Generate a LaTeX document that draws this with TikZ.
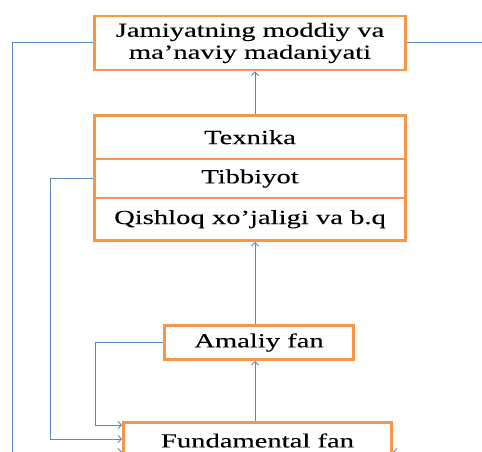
\documentclass[tikz,border=0pt]{standalone}
\usepackage{fontspec}
\setmainfont[FakeStretch=1.43,FakeBold=0.15]{Liberation Serif}
\usetikzlibrary{arrows.meta}
\definecolor{boxorange}{HTML}{F79646}
\definecolor{linkblue}{HTML}{5A88C4}
\begin{document}
\begin{tikzpicture}[x=1pt,y=-1pt,
  box/.style={draw=boxorange,line width=2.6pt,fill=white,inner sep=0pt,
    align=center,font=\fontsize{20}{22}\selectfont},
  link/.style={draw=linkblue,line width=1pt},
  arr/.style={link,-{Straight Barb[length=3.5pt,width=7pt]}}]
\useasboundingbox (0,0) rectangle (482,452);
\clip (0,0) rectangle (482,452);

% boxes
\node[box,minimum width=311pt,minimum height=54pt] (culture) at (250,43)
  {Jamiyatning moddiy va\\ma’naviy madaniyati};
\node[box,minimum width=311pt,minimum height=43.5pt] (tech) at (250,137.25) {Texnika};
\node[box,minimum width=311pt,minimum height=39pt] (med) at (250,178.5) {Tibbiyot};
\node[box,minimum width=311pt,minimum height=42.5pt] (agri) at (250,219.25) {Qishloq xo’jaligi va b.q};
\node[box,minimum width=189pt,minimum height=34pt] (applied) at (259,342.5) {Amaliy fan};
\node[box,minimum width=268pt,minimum height=36pt] (fund) at (257.5,440.5) {Fundamental fan};

% bend points
\coordinate (cl) at (12,452);
\coordinate (cr) at (486,452);
\coordinate (ml) at (50,439);
\coordinate (al) at (95,425);

% vertical flow
\draw[arr] (fund.north -| 255,0) -- (applied.south -| 255,0);
\draw[arr] (applied.north -| 255,0) -- (agri.south -| 255,0);
\draw[arr] (tech.north -| 255,0) -- (culture.south -| 255,0);

% feedback loops to the fundamental science box
\draw[link] (culture.west) -| (cl);
\draw[arr] (cl) -- (fund.west |- cl);
\draw[link] (culture.east) -| (cr);
\draw[arr] (cr) -- (fund.east |- cr);
\draw[link] (med.west) -| (ml);
\draw[arr] (ml) -- (fund.west |- ml);
\draw[link] (applied.west) -| (al);
\draw[arr] (al) -- (fund.west |- al);
\end{tikzpicture}
\end{document}
